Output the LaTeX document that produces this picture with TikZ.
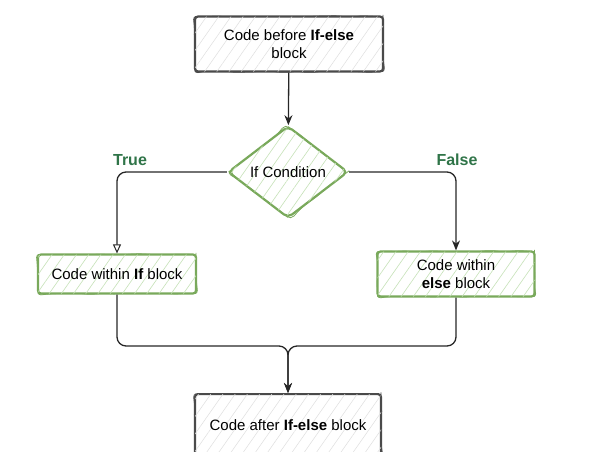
\documentclass[tikz,border=0pt]{standalone}
\usepackage{fontspec}
\setmainfont{Liberation Sans}
\usetikzlibrary{arrows.meta,shapes.geometric,patterns.meta,decorations.pathmorphing}

\definecolor{inkgray}{HTML}{4A4A4A}
\definecolor{inkgreen}{HTML}{79A95B}
\definecolor{hatchgreen}{HTML}{C6E2B8}
\definecolor{labelgreen}{HTML}{2F7448}

\begin{document}
\begin{tikzpicture}[
  x=1pt, y=-1pt,
  font=\fontsize{15}{18}\selectfont,
  sketch/.style={line width=2.2pt, rounded corners=3pt, fill=white, align=center, inner sep=2pt,
    preaction={draw, line width=0.8pt, decorate, decoration={random steps, segment length=9pt, amplitude=0.9pt}}},
  graybox/.style={sketch, draw=inkgray,
    postaction={pattern={Lines[angle=55, distance=10pt, line width=0.5pt]}, pattern color=gray!25}},
  greenbox/.style={sketch, draw=inkgreen,
    postaction={pattern={Lines[angle=55, distance=10pt, line width=0.6pt]}, pattern color=hatchgreen}},
  cond/.style={greenbox, shape=diamond, rounded corners=5pt, minimum width=120pt, minimum height=92pt, inner sep=0pt},
  tag/.style={font=\fontsize{16}{18}\selectfont\bfseries, text=labelgreen},
  flow/.style={draw=black!85, line width=1.3pt, rounded corners=9pt, -{Stealth[length=10pt, width=8pt]}},
  flowopen/.style={flow, -{Triangle[open, length=9pt, width=8pt, line width=1pt]}}
]
\useasboundingbox (0,0) rectangle (600,451);

\node[graybox, minimum width=188pt, minimum height=55pt] (before) at (289,44)
  {Code before \textbf{If-else}\\block};
\node[cond] (ifcond) at (288,172) {If Condition};
\node[greenbox, minimum width=158pt, minimum height=39pt] (ifblk) at (117,274)
  {Code within \textbf{If} block};
\node[greenbox, minimum width=157pt, minimum height=45pt] (elseblk) at (456,274)
  {Code within\\\textbf{else} block};
\node[graybox, minimum width=186pt, minimum height=62pt, anchor=north] (after) at (288,393)
  {Code after \textbf{If-else} block};

\node[tag] (truetag) at (130,160) {True};
\node[tag] (falsetag) at (457,160) {False};

\coordinate (join) at (288,346);

\draw[flow] (before) -- (ifcond);
\draw[flowopen] (ifcond.west) -| (ifblk.north);
\draw[flow] (ifcond.east) -| (elseblk.north);
\draw[flow] (ifblk.south) |- (join) -- (after.north);
\draw[flow] (elseblk.south) |- (join) -- (after.north);

\end{tikzpicture}
\end{document}
